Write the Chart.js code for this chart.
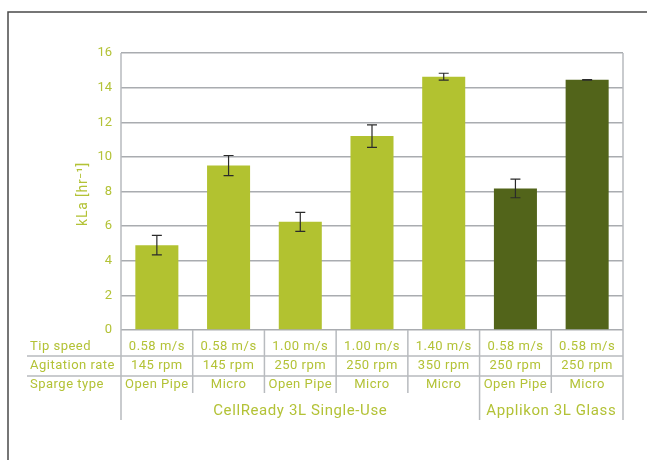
<!DOCTYPE html>
<html>
<head>
<meta charset="utf-8">
<script src="https://cdn.jsdelivr.net/npm/chart.js@4"></script>
<style>
  html, body { margin: 0; padding: 0; background: #fff; }
  #wrap { width: 647px; height: 460px; position: relative; }
</style>
</head>
<body>
<div id="wrap"><canvas id="myChart" width="647" height="460"></canvas></div>
<script>
// values
const tipSpeed = ['0.58 m/s', '0.58 m/s', '1.00 m/s', '1.00 m/s', '1.40 m/s', '0.58 m/s', '0.58 m/s']
const agitation = ['145 rpm', '145 rpm', '250 rpm', '250 rpm', '350 rpm', '250 rpm', '250 rpm']
const sparge = ['Open Pipe', 'Micro', 'Open Pipe', 'Micro', 'Micro', 'Open Pipe', 'Micro']
const kla = [4.9, 9.5, 6.25, 11.2, 14.63, 8.18, 14.45]
const klaErr = [0.56, 0.58, 0.55, 0.65, 0.2, 0.54, 0.02]
const groups = [
  { label: 'CellReady 3L Single-Use', from: 0, to: 4 },
  { label: 'Applikon 3L Glass', from: 5, to: 6 }
]
const rowLabels = ['Tip speed', 'Agitation rate', 'Sparge type']
const yTicks = [0, 2, 4, 6, 8, 10, 12, 14, 16]

const LIGHT = '#b2c230'
const DARK = '#52641a'
const TEXT = '#b3c236'
const GRID = '#a9acb0'
const TABLE = '#b8bbbf'
const FONT = 'Roboto, "Liberation Sans", sans-serif'

const barColors = kla.map((v, i) => i < 5 ? LIGHT : DARK)

const tablePlugin = {
  id: 'tablePlugin',
  afterDraw(chart) {
    const ctx = chart.ctx
    const xs = chart.scales.x
    const ys = chart.scales.y
    const area = chart.chartArea
    const n = kla.length
    const half = (xs.getPixelForValue(1) - xs.getPixelForValue(0)) / 2
    const edge = i => xs.getPixelForValue(i) - half

    ctx.save()
    // outer frame
    ctx.strokeStyle = '#4a4a4a'
    ctx.lineWidth = 1.5
    ctx.beginPath()
    ctx.moveTo(8, 460)
    ctx.lineTo(8, 12)
    ctx.lineTo(647, 12)
    ctx.stroke()

    // error bars
    ctx.strokeStyle = '#2b2b2b'
    ctx.lineWidth = 1.2
    kla.forEach((v, i) => {
      const x = xs.getPixelForValue(i)
      const yt = ys.getPixelForValue(v + klaErr[i])
      const yb = ys.getPixelForValue(v - klaErr[i])
      ctx.beginPath()
      ctx.moveTo(x, yt); ctx.lineTo(x, yb)
      ctx.moveTo(x - 5, yt); ctx.lineTo(x + 5, yt)
      ctx.moveTo(x - 5, yb); ctx.lineTo(x + 5, yb)
      ctx.stroke()
    })

    // table lines
    ctx.strokeStyle = TABLE
    ctx.lineWidth = 1.5
    const y0 = area.bottom
    const rowLines = [356, 376]
    ctx.beginPath()
    rowLines.forEach(y => { ctx.moveTo(27, y); ctx.lineTo(area.right, y) })
    for (let i = 1; i < n; i++) {
      ctx.moveTo(edge(i), y0); ctx.lineTo(edge(i), 393)
    }
    groups.forEach(g => {
      ctx.moveTo(edge(g.from), y0); ctx.lineTo(edge(g.from), 420)
    })
    ctx.moveTo(area.left, area.top); ctx.lineTo(area.left, 420)
    ctx.moveTo(area.right, area.top); ctx.lineTo(area.right, 420)
    ctx.stroke()

    // table text
    ctx.fillStyle = TEXT
    ctx.font = '13px ' + FONT
    ctx.letterSpacing = '0.5px'
    ctx.textBaseline = 'middle'
    const rowY = [347, 366, 385]
    ctx.textAlign = 'left'
    rowLabels.forEach((l, r) => ctx.fillText(l, 30, rowY[r]))
    ctx.textAlign = 'center'
    const rows = [tipSpeed, agitation, sparge]
    rows.forEach((row, r) => {
      row.forEach((t, i) => ctx.fillText(t, xs.getPixelForValue(i), rowY[r]))
    })
    ctx.font = '15px ' + FONT
    ctx.letterSpacing = '0.6px'
    groups.forEach(g => {
      const cx = (edge(g.from) + edge(g.to + 1)) / 2
      ctx.fillText(g.label, cx, 411)
    })

    // y axis title
    ctx.font = '14px ' + FONT
    ctx.letterSpacing = '0.8px'
    ctx.translate(83, 194)
    ctx.rotate(-Math.PI / 2)
    ctx.fillText('kLa [hr\u207B\u00B9]', 0, 0)
    ctx.restore()
  }
}

const ctx = document.getElementById('myChart').getContext('2d')
new Chart(ctx, {
  type: 'bar',
  data: {
    labels: sparge.map((s, i) => i),
    datasets: [{
      data: kla,
      backgroundColor: barColors,
      borderWidth: 0,
      barPercentage: 0.6,
      categoryPercentage: 1
    }]
  },
  options: {
    responsive: false,
    animation: false,
    layout: { padding: { top: 53, right: 24, bottom: 130, left: 0 } },
    plugins: { legend: { display: false }, tooltip: { enabled: false } },
    scales: {
      x: { display: false },
      y: {
        min: 0,
        max: 16,
        afterFit: s => { s.width = 121 },
        afterBuildTicks: s => { s.ticks = yTicks.map(v => ({ value: v })) },
        border: { display: false },
        grid: { color: GRID, lineWidth: 1.5, drawTicks: false },
        ticks: { color: TEXT, padding: 9, font: { family: FONT, size: 13 } }
      }
    }
  },
  plugins: [tablePlugin]
})
</script>
</body>
</html>
